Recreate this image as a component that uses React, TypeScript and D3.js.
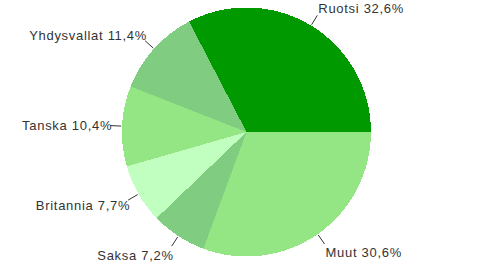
import React from "react";
import * as d3 from "d3";

const categories = ["Ruotsi", "Yhdysvallat", "Tanska", "Britannia", "Saksa", "Muut"];
const values = [32.6, 11.4, 10.4, 7.7, 7.2, 30.6];
const labels = ["Ruotsi 32,6%", "Yhdysvallat 11,4%", "Tanska 10,4%", "Britannia 7,7%", "Saksa 7,2%", "Muut 30,6%"];
const colors = ["#009900", "#80CC80", "#94E685", "#C0FFC0", "#80CC80", "#94E685"];

export default function App() {
  const W = 492, H = 265;
  const cx = 246.5, cy = 132, r = 124.5;
  const pie = d3.pie<number>().sort(null).startAngle(Math.PI / 2).endAngle(Math.PI / 2 - 2 * Math.PI);
  const arcs = pie(values);
  const arc = d3.arc<d3.PieArcDatum<number>>().innerRadius(0).outerRadius(r);
  return (
    <svg width={W} height={H} style={{ position: "absolute", left: 0, top: 0, background: "#fff" }}>
      <g transform={`translate(${cx},${cy})`}>
        {arcs.map((a, i) => (
          <path key={i} d={arc(a) || ""} fill={colors[i]} shapeRendering="crispEdges" />
        ))}
        {arcs.map((a, i) => {
          const m = (a.startAngle + a.endAngle) / 2;
          const s = Math.sin(m), c = Math.cos(m);
          const x1 = s * (r + 1), y1 = -c * (r + 1);
          const x2 = s * (r + 12), y2 = -c * (r + 12);
          const right = s > 0;
          const ty = y2 + 5 - (c < 0 ? 10 : 8) * c;
          return (
            <g key={"l" + i}>
              <line x1={x1} y1={y1} x2={x2} y2={y2} stroke="#333" strokeWidth={1} />
              <text
                x={right ? x2 + 1 : x2 + 2}
                y={ty}
                textAnchor={right ? "start" : "end"}
                fontFamily="'Liberation Sans', Arial, sans-serif"
                fontSize={13}
                letterSpacing={0.7}
                fill="#333"
              >
                {labels[i]}
              </text>
            </g>
          );
        })}
      </g>
    </svg>
  );
}
